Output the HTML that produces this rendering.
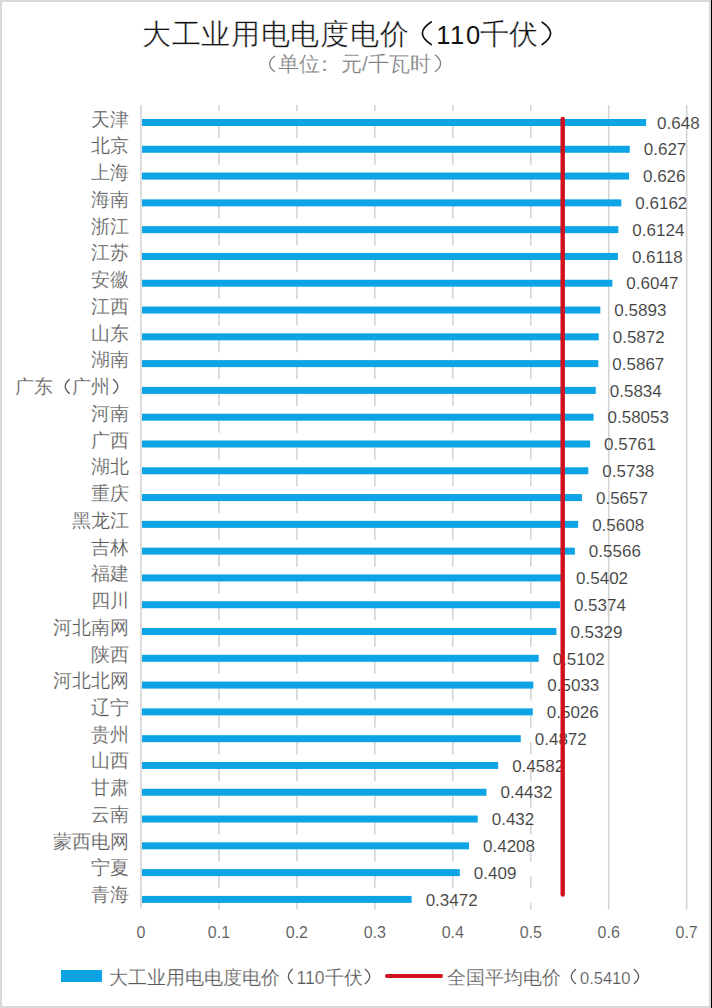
<!DOCTYPE html>
<html><head><meta charset="utf-8">
<style>
html,body{margin:0;padding:0;}
body{width:712px;height:1008px;overflow:hidden;background:#fff;position:relative;font-family:"Liberation Sans",sans-serif;}
.bt{position:absolute;left:0;top:0;width:712px;height:2px;background:#d9d9d9}
.bl{position:absolute;left:0;top:0;width:2px;height:1008px;background:#d9d9d9}
.bb{position:absolute;left:0;top:1006px;width:712px;height:2px;background:#d9d9d9}
.br{position:absolute;left:709px;top:0;width:2px;height:1008px;background:#d9d9d9}
.brk{position:absolute;left:711px;top:0;width:1px;height:1008px;background:#000}
.title{position:absolute;left:142px;top:13.5px;font-size:29px;line-height:40px;color:#111;white-space:nowrap;letter-spacing:0.7px;-webkit-text-stroke:0.4px #fff}
.title .d{font-size:25.5px;letter-spacing:1.6px;margin-left:-2.8px;margin-right:-2px;-webkit-text-stroke:0}
.sub{position:absolute;left:257px;top:50px;font-size:21px;line-height:28px;color:#808080;-webkit-text-stroke:0.2px #fff;white-space:nowrap}
.cat{position:absolute;right:583px;font-size:18.5px;line-height:26px;color:#595959;-webkit-text-stroke:0.2px #fff;white-space:nowrap;text-align:right}
.val{position:absolute;font-size:17px;line-height:22px;color:#404040;-webkit-text-stroke:0.1px #fff;white-space:nowrap}
.tick{position:absolute;top:922px;width:60px;text-align:center;font-size:16px;line-height:22px;color:#595959;-webkit-text-stroke:0.1px #fff}
svg{position:absolute;left:0;top:0} .hp{color:transparent;-webkit-text-stroke-color:transparent}
.lg1{position:absolute;left:61px;top:970px;width:41px;height:12px;background:#0ca4e4}
.lg2{position:absolute;left:384.5px;top:973.5px;width:58px;height:4.5px;border-radius:2.25px;background:#d0101c}
.lt{position:absolute;top:964.8px;font-size:18.67px;line-height:26px;color:#595959;-webkit-text-stroke:0.2px #fff;white-space:nowrap}
.lt .d{font-size:16.5px} .lt .d1{font-size:17.5px;margin-left:-2.5px;margin-right:1px}
</style></head><body>
<div class="bt"></div><div class="bl"></div><div class="bb"></div><div class="br"></div><div class="brk"></div>
<div class="title">大工业用电电度电价<span class="hp">（</span><span class="d">110</span>千伏<span class="hp">）</span></div>
<div class="sub"><span class="hp">（</span>单位<span style="position:relative;left:-6px">：</span>元/千瓦时<span class="hp">）</span></div>
<svg width="712" height="1008" viewBox="0 0 712 1008">
<line x1="218.95" y1="105.0" x2="218.95" y2="909.5" stroke="#d4d4d4" stroke-width="1.6" stroke-dasharray="12 14.79" stroke-dashoffset="5.79"/>
<line x1="296.90" y1="105.0" x2="296.90" y2="909.5" stroke="#d4d4d4" stroke-width="1.6" stroke-dasharray="12 14.79" stroke-dashoffset="5.79"/>
<line x1="374.85" y1="105.0" x2="374.85" y2="909.5" stroke="#d4d4d4" stroke-width="1.6" stroke-dasharray="12 14.79" stroke-dashoffset="5.79"/>
<line x1="452.80" y1="105.0" x2="452.80" y2="909.5" stroke="#d4d4d4" stroke-width="1.6" stroke-dasharray="12 14.79" stroke-dashoffset="5.79"/>
<line x1="530.75" y1="105.0" x2="530.75" y2="909.5" stroke="#d4d4d4" stroke-width="1.6" stroke-dasharray="12 14.79" stroke-dashoffset="5.79"/>
<line x1="608.70" y1="105.0" x2="608.70" y2="909.5" stroke="#d4d4d4" stroke-width="1.6"/>
<line x1="686.65" y1="105.0" x2="686.65" y2="909.5" stroke="#d4d4d4" stroke-width="1.6"/>
<line x1="141" y1="105.0" x2="141" y2="908.5" stroke="#d6d6d6" stroke-width="1.7"/>
<rect x="142" y="119.00" width="504.12" height="7.0" fill="#0ca4e4"/>
<rect x="142" y="145.79" width="487.75" height="7.0" fill="#0ca4e4"/>
<rect x="142" y="172.58" width="486.97" height="7.0" fill="#0ca4e4"/>
<rect x="142" y="199.37" width="479.33" height="7.0" fill="#0ca4e4"/>
<rect x="142" y="226.16" width="476.37" height="7.0" fill="#0ca4e4"/>
<rect x="142" y="252.95" width="475.90" height="7.0" fill="#0ca4e4"/>
<rect x="142" y="279.74" width="470.36" height="7.0" fill="#0ca4e4"/>
<rect x="142" y="306.53" width="458.36" height="7.0" fill="#0ca4e4"/>
<rect x="142" y="333.32" width="456.72" height="7.0" fill="#0ca4e4"/>
<rect x="142" y="360.11" width="456.33" height="7.0" fill="#0ca4e4"/>
<rect x="142" y="386.90" width="453.76" height="7.0" fill="#0ca4e4"/>
<rect x="142" y="413.69" width="451.52" height="7.0" fill="#0ca4e4"/>
<rect x="142" y="440.48" width="448.07" height="7.0" fill="#0ca4e4"/>
<rect x="142" y="467.27" width="446.28" height="7.0" fill="#0ca4e4"/>
<rect x="142" y="494.06" width="439.96" height="7.0" fill="#0ca4e4"/>
<rect x="142" y="520.85" width="436.14" height="7.0" fill="#0ca4e4"/>
<rect x="142" y="547.64" width="432.87" height="7.0" fill="#0ca4e4"/>
<rect x="142" y="574.43" width="420.09" height="7.0" fill="#0ca4e4"/>
<rect x="142" y="601.22" width="417.90" height="7.0" fill="#0ca4e4"/>
<rect x="142" y="628.01" width="414.40" height="7.0" fill="#0ca4e4"/>
<rect x="142" y="654.80" width="396.70" height="7.0" fill="#0ca4e4"/>
<rect x="142" y="681.59" width="391.32" height="7.0" fill="#0ca4e4"/>
<rect x="142" y="708.38" width="390.78" height="7.0" fill="#0ca4e4"/>
<rect x="142" y="735.17" width="378.77" height="7.0" fill="#0ca4e4"/>
<rect x="142" y="761.96" width="356.17" height="7.0" fill="#0ca4e4"/>
<rect x="142" y="788.75" width="344.47" height="7.0" fill="#0ca4e4"/>
<rect x="142" y="815.54" width="335.74" height="7.0" fill="#0ca4e4"/>
<rect x="142" y="842.33" width="327.01" height="7.0" fill="#0ca4e4"/>
<rect x="142" y="869.12" width="317.82" height="7.0" fill="#0ca4e4"/>
<rect x="142" y="895.91" width="269.64" height="7.0" fill="#0ca4e4"/>
</svg>
<div class="cat" style="top:106.70px">天津</div>
<div class="cat" style="top:133.44px">北京</div>
<div class="cat" style="top:160.18px">上海</div>
<div class="cat" style="top:186.92px">海南</div>
<div class="cat" style="top:213.66px">浙江</div>
<div class="cat" style="top:240.40px">江苏</div>
<div class="cat" style="top:267.14px">安徽</div>
<div class="cat" style="top:293.88px">江西</div>
<div class="cat" style="top:320.62px">山东</div>
<div class="cat" style="top:347.36px">湖南</div>
<div class="cat" style="top:374.10px">广东<span class="hp">（</span>广州<span class="hp">）</span></div>
<div class="cat" style="top:400.84px">河南</div>
<div class="cat" style="top:427.58px">广西</div>
<div class="cat" style="top:454.32px">湖北</div>
<div class="cat" style="top:481.06px">重庆</div>
<div class="cat" style="top:507.80px">黑龙江</div>
<div class="cat" style="top:534.54px">吉林</div>
<div class="cat" style="top:561.28px">福建</div>
<div class="cat" style="top:588.02px">四川</div>
<div class="cat" style="top:614.76px">河北南网</div>
<div class="cat" style="top:641.50px">陕西</div>
<div class="cat" style="top:668.24px">河北北网</div>
<div class="cat" style="top:694.98px">辽宁</div>
<div class="cat" style="top:721.72px">贵州</div>
<div class="cat" style="top:748.46px">山西</div>
<div class="cat" style="top:775.20px">甘肃</div>
<div class="cat" style="top:801.94px">云南</div>
<div class="cat" style="top:828.68px">蒙西电网</div>
<div class="cat" style="top:855.42px">宁夏</div>
<div class="cat" style="top:882.16px">青海</div>
<div class="val" style="top:112.70px;left:657.12px">0.648</div>
<div class="val" style="top:139.49px;left:643.75px">0.627</div>
<div class="val" style="top:166.28px;left:642.97px">0.626</div>
<div class="val" style="top:193.07px;left:635.33px">0.6162</div>
<div class="val" style="top:219.86px;left:632.37px">0.6124</div>
<div class="val" style="top:246.65px;left:631.90px">0.6118</div>
<div class="val" style="top:273.44px;left:626.36px">0.6047</div>
<div class="val" style="top:300.23px;left:614.36px">0.5893</div>
<div class="val" style="top:327.02px;left:612.72px">0.5872</div>
<div class="val" style="top:353.81px;left:612.33px">0.5867</div>
<div class="val" style="top:380.60px;left:609.76px">0.5834</div>
<div class="val" style="top:407.39px;left:607.52px">0.58053</div>
<div class="val" style="top:434.18px;left:604.07px">0.5761</div>
<div class="val" style="top:460.97px;left:602.28px">0.5738</div>
<div class="val" style="top:487.76px;left:595.96px">0.5657</div>
<div class="val" style="top:514.55px;left:592.14px">0.5608</div>
<div class="val" style="top:541.34px;left:588.87px">0.5566</div>
<div class="val" style="top:568.13px;left:576.09px">0.5402</div>
<div class="val" style="top:594.92px;left:573.90px">0.5374</div>
<div class="val" style="top:621.71px;left:570.40px">0.5329</div>
<div class="val" style="top:648.50px;left:552.70px">0.5102</div>
<div class="val" style="top:675.29px;left:547.32px">0.5033</div>
<div class="val" style="top:702.08px;left:546.78px">0.5026</div>
<div class="val" style="top:728.87px;left:534.77px">0.4872</div>
<div class="val" style="top:755.66px;left:512.17px">0.4582</div>
<div class="val" style="top:782.45px;left:500.47px">0.4432</div>
<div class="val" style="top:809.24px;left:491.74px">0.432</div>
<div class="val" style="top:836.03px;left:483.01px">0.4208</div>
<div class="val" style="top:862.82px;left:473.82px">0.409</div>
<div class="val" style="top:889.61px;left:425.64px">0.3472</div>
<div class="tick" style="left:111.00px">0</div>
<div class="tick" style="left:188.95px">0.1</div>
<div class="tick" style="left:266.90px">0.2</div>
<div class="tick" style="left:344.85px">0.3</div>
<div class="tick" style="left:422.80px">0.4</div>
<div class="tick" style="left:500.75px">0.5</div>
<div class="tick" style="left:578.70px">0.6</div>
<div class="tick" style="left:656.65px">0.7</div>
<svg class="ov" width="712" height="1008"><line x1="562.71" y1="119" x2="562.71" y2="894.6" stroke="#d0101c" stroke-width="4.4" stroke-linecap="round"/></svg>
<svg width="712" height="1008" fill="none" stroke-linecap="round">
<path d="M431.2,22 Q413.6,33.3 431.2,44.5" stroke="#111" stroke-width="1.7"/>
<path d="M542.2,22.2 Q559,33.3 542.2,44.5" stroke="#111" stroke-width="1.7"/>
<path d="M274.5,56.2 Q264.7,63.9 274.5,71.6" stroke="#808080" stroke-width="1.3"/>
<path d="M435.3,55.1 Q445.9,63.4 435.3,71.6" stroke="#808080" stroke-width="1.3"/>
<path d="M69.5,379.4 Q60.9,386.4 69.5,393.4" stroke="#595959" stroke-width="1.3"/>
<path d="M113.4,379.4 Q122.2,386.4 113.4,393.4" stroke="#595959" stroke-width="1.3"/>
<path d="M292.5,969.3 Q284.3,976.5 292.5,983.6" stroke="#595959" stroke-width="1.3"/>
<path d="M365.3,969.3 Q374.1,976.5 365.3,983.6" stroke="#595959" stroke-width="1.3"/>
<path d="M575.5,969.4 Q567.1,976.5 575.5,983.5" stroke="#595959" stroke-width="1.3"/>
<path d="M634.3,969.4 Q642.9,976.5 634.3,983.5" stroke="#595959" stroke-width="1.3"/>
</svg>
<div class="lg1"></div>
<div class="lt" style="left:109px">大工业用电电度电价<span class="hp">（</span><span class="d1">110</span>千伏<span class="hp">）</span></div>
<div class="lg2"></div>
<div class="lt" style="left:447px">全国平均电价<span class="hp">（</span><span class="d">0.5410</span><span class="hp">）</span></div>
</body></html>
